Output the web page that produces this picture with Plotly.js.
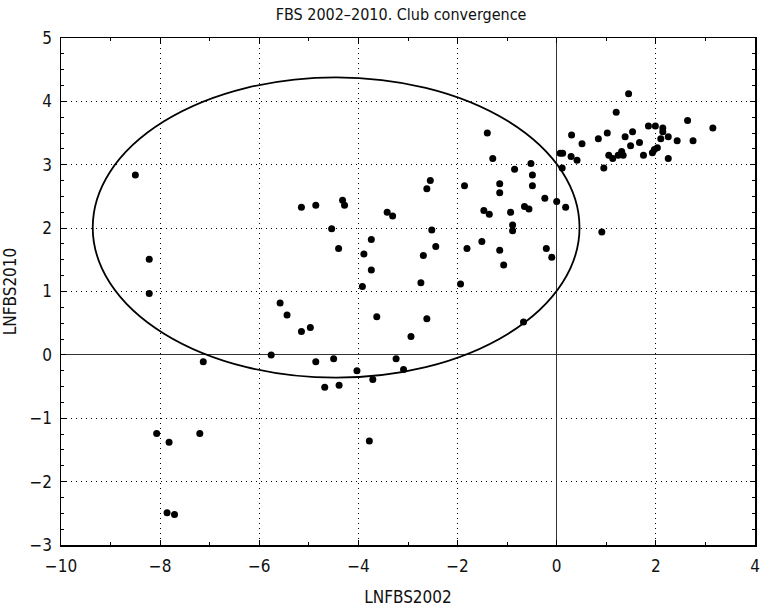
<!DOCTYPE html>
<html>
<head>
<meta charset="utf-8">
<script src="https://cdn.plot.ly/plotly-3.0.1.min.js"></script>
<style>html,body{margin:0;padding:0;background:#fff;}#chart{width:764px;height:610px;}</style>
</head>
<body>
<div id="chart"></div>
<script>
// LNFBS2002 values (x)
const lnfbs2002 = [
  -8.50,-8.22,-8.22,-7.13,-8.07,-7.82,-7.20,-7.86,-7.71,-5.76,
  -5.58,-5.44,-5.15,-4.97,-5.15,-4.86,-4.32,-4.28,-4.54,-4.40,
  -3.42,-3.31,-2.62,-2.55,-1.86,-2.52,-2.44,-2.69,-1.81,-3.74,
  -3.89,-3.74,-3.92,-2.74,-1.94,-3.63,-2.62,-2.94,-4.86,-4.50,
  -4.68,-4.39,-4.03,-3.71,-3.24,-3.09,-3.78, 1.20, 1.45,-1.40,
  -1.29, 0.30, 0.51, 0.84, 1.02, 1.38, 1.53, 1.49, 0.07, 0.12,
   0.29, 0.41, 0.11, 0.95,-0.52,-0.85,-0.49,-1.15,-1.15,-0.49,
  -0.24, 0.00, 0.18,-0.65,-0.56,-1.47,-1.36,-0.93,-0.89,-0.89,
  -1.51,-1.15,-1.07,-0.21,-0.10, 0.91,-0.67, 1.67, 1.85, 1.99,
   2.14, 2.14, 2.25, 2.10, 2.43, 2.64, 2.75, 3.15, 1.75, 1.93,
   1.97, 2.03, 2.25, 1.05, 1.13, 1.24, 1.31, 1.34
];
// LNFBS2010 values (y)
const lnfbs2010 = [
   2.84, 1.51, 0.97,-0.11,-1.24,-1.38,-1.24,-2.49,-2.52, 0.00,
   0.82, 0.63, 0.37, 0.43, 2.33, 2.36, 2.44, 2.36, 1.99, 1.68,
   2.25, 2.19, 2.62, 2.75, 2.67, 1.97, 1.71, 1.57, 1.68, 1.82,
   1.59, 1.34, 1.08, 1.14, 1.12, 0.60, 0.57, 0.29,-0.11,-0.06,
  -0.51,-0.48,-0.25,-0.39,-0.06,-0.23,-1.36, 3.83, 4.12, 3.50,
   3.10, 3.47, 3.33, 3.41, 3.50, 3.44, 3.52, 3.30, 3.18, 3.18,
   3.13, 3.07, 2.95, 2.95, 3.02, 2.93, 2.84, 2.70, 2.56, 2.67,
   2.47, 2.42, 2.33, 2.34, 2.30, 2.28, 2.22, 2.25, 2.05, 1.96,
   1.79, 1.65, 1.42, 1.68, 1.54, 1.94, 0.52, 3.35, 3.61, 3.61,
   3.58, 3.52, 3.44, 3.41, 3.38, 3.70, 3.38, 3.58, 3.15, 3.19,
   3.24, 3.27, 3.10, 3.15, 3.10, 3.15, 3.21, 3.15
];
// Club ellipse (data units): centre and semi-axes
const ellipseCenter = [-4.45, 2.01];
const ellipseRadii = [4.91, 2.37];

const FONT = "'Liberation Sans Narrow', 'DejaVu Sans Condensed', 'Arial Narrow', sans-serif";

const trace = {
  type: 'scatter', mode: 'markers',
  x: lnfbs2002, y: lnfbs2010,
  marker: {color: '#000', size: 7},
  hoverinfo: 'x+y'
};

const axisCommon = {
  showline: true, linecolor: '#000', linewidth: 1.5, mirror: 'allticks',
  ticks: 'inside', tickcolor: '#000', ticklen: 5, tickwidth: 1,
  showgrid: true, gridcolor: '#000', griddash: '1.3px,3.7px', gridwidth: 1.2,
  zeroline: true, zerolinecolor: '#333', zerolinewidth: 1.2,
  tickfont: {family: FONT, size: 17, color: '#111'}
};

const layout = {
  width: 764, height: 610,
  margin: {l: 61, r: 9, t: 38, b: 65},
  paper_bgcolor: '#fff', plot_bgcolor: '#fff',
  font: {family: FONT, color: '#111'},
  showlegend: false,
  title: {text: 'FBS 2002–2010. Club convergence', x: 0.49, xref: 'paper', xanchor: 'center',
          y: 0.977, yref: 'container', yanchor: 'middle',
          font: {family: FONT, size: 16, color: '#111'}},
  xaxis: Object.assign({}, axisCommon, {
    range: [-10, 4], dtick: 2, tick0: 0, ticklabelstandoff: 5,
    minor: {dtick: 1, ticks: 'inside', ticklen: 3, tickcolor: '#000', showgrid: false},
    title: {text: 'LNFBS2002', standoff: 16, font: {family: FONT, size: 17, color: '#111'}}
  }),
  yaxis: Object.assign({}, axisCommon, {
    range: [-3, 5], dtick: 1, tick0: 0, ticklabelstandoff: 4,
    minor: {dtick: 0.25, ticks: 'inside', ticklen: 3, tickcolor: '#000', showgrid: false},
    title: {text: 'LNFBS2010', standoff: 12, font: {family: FONT, size: 17, color: '#111'}}
  }),
  shapes: [{
    type: 'circle', xref: 'x', yref: 'y',
    x0: ellipseCenter[0] - ellipseRadii[0], x1: ellipseCenter[0] + ellipseRadii[0],
    y0: ellipseCenter[1] - ellipseRadii[1], y1: ellipseCenter[1] + ellipseRadii[1],
    line: {color: '#000', width: 1.8}, layer: 'above'
  }]
};

Plotly.newPlot('chart', [trace], layout, {displayModeBar: false, staticPlot: true});
</script>
</body>
</html>
